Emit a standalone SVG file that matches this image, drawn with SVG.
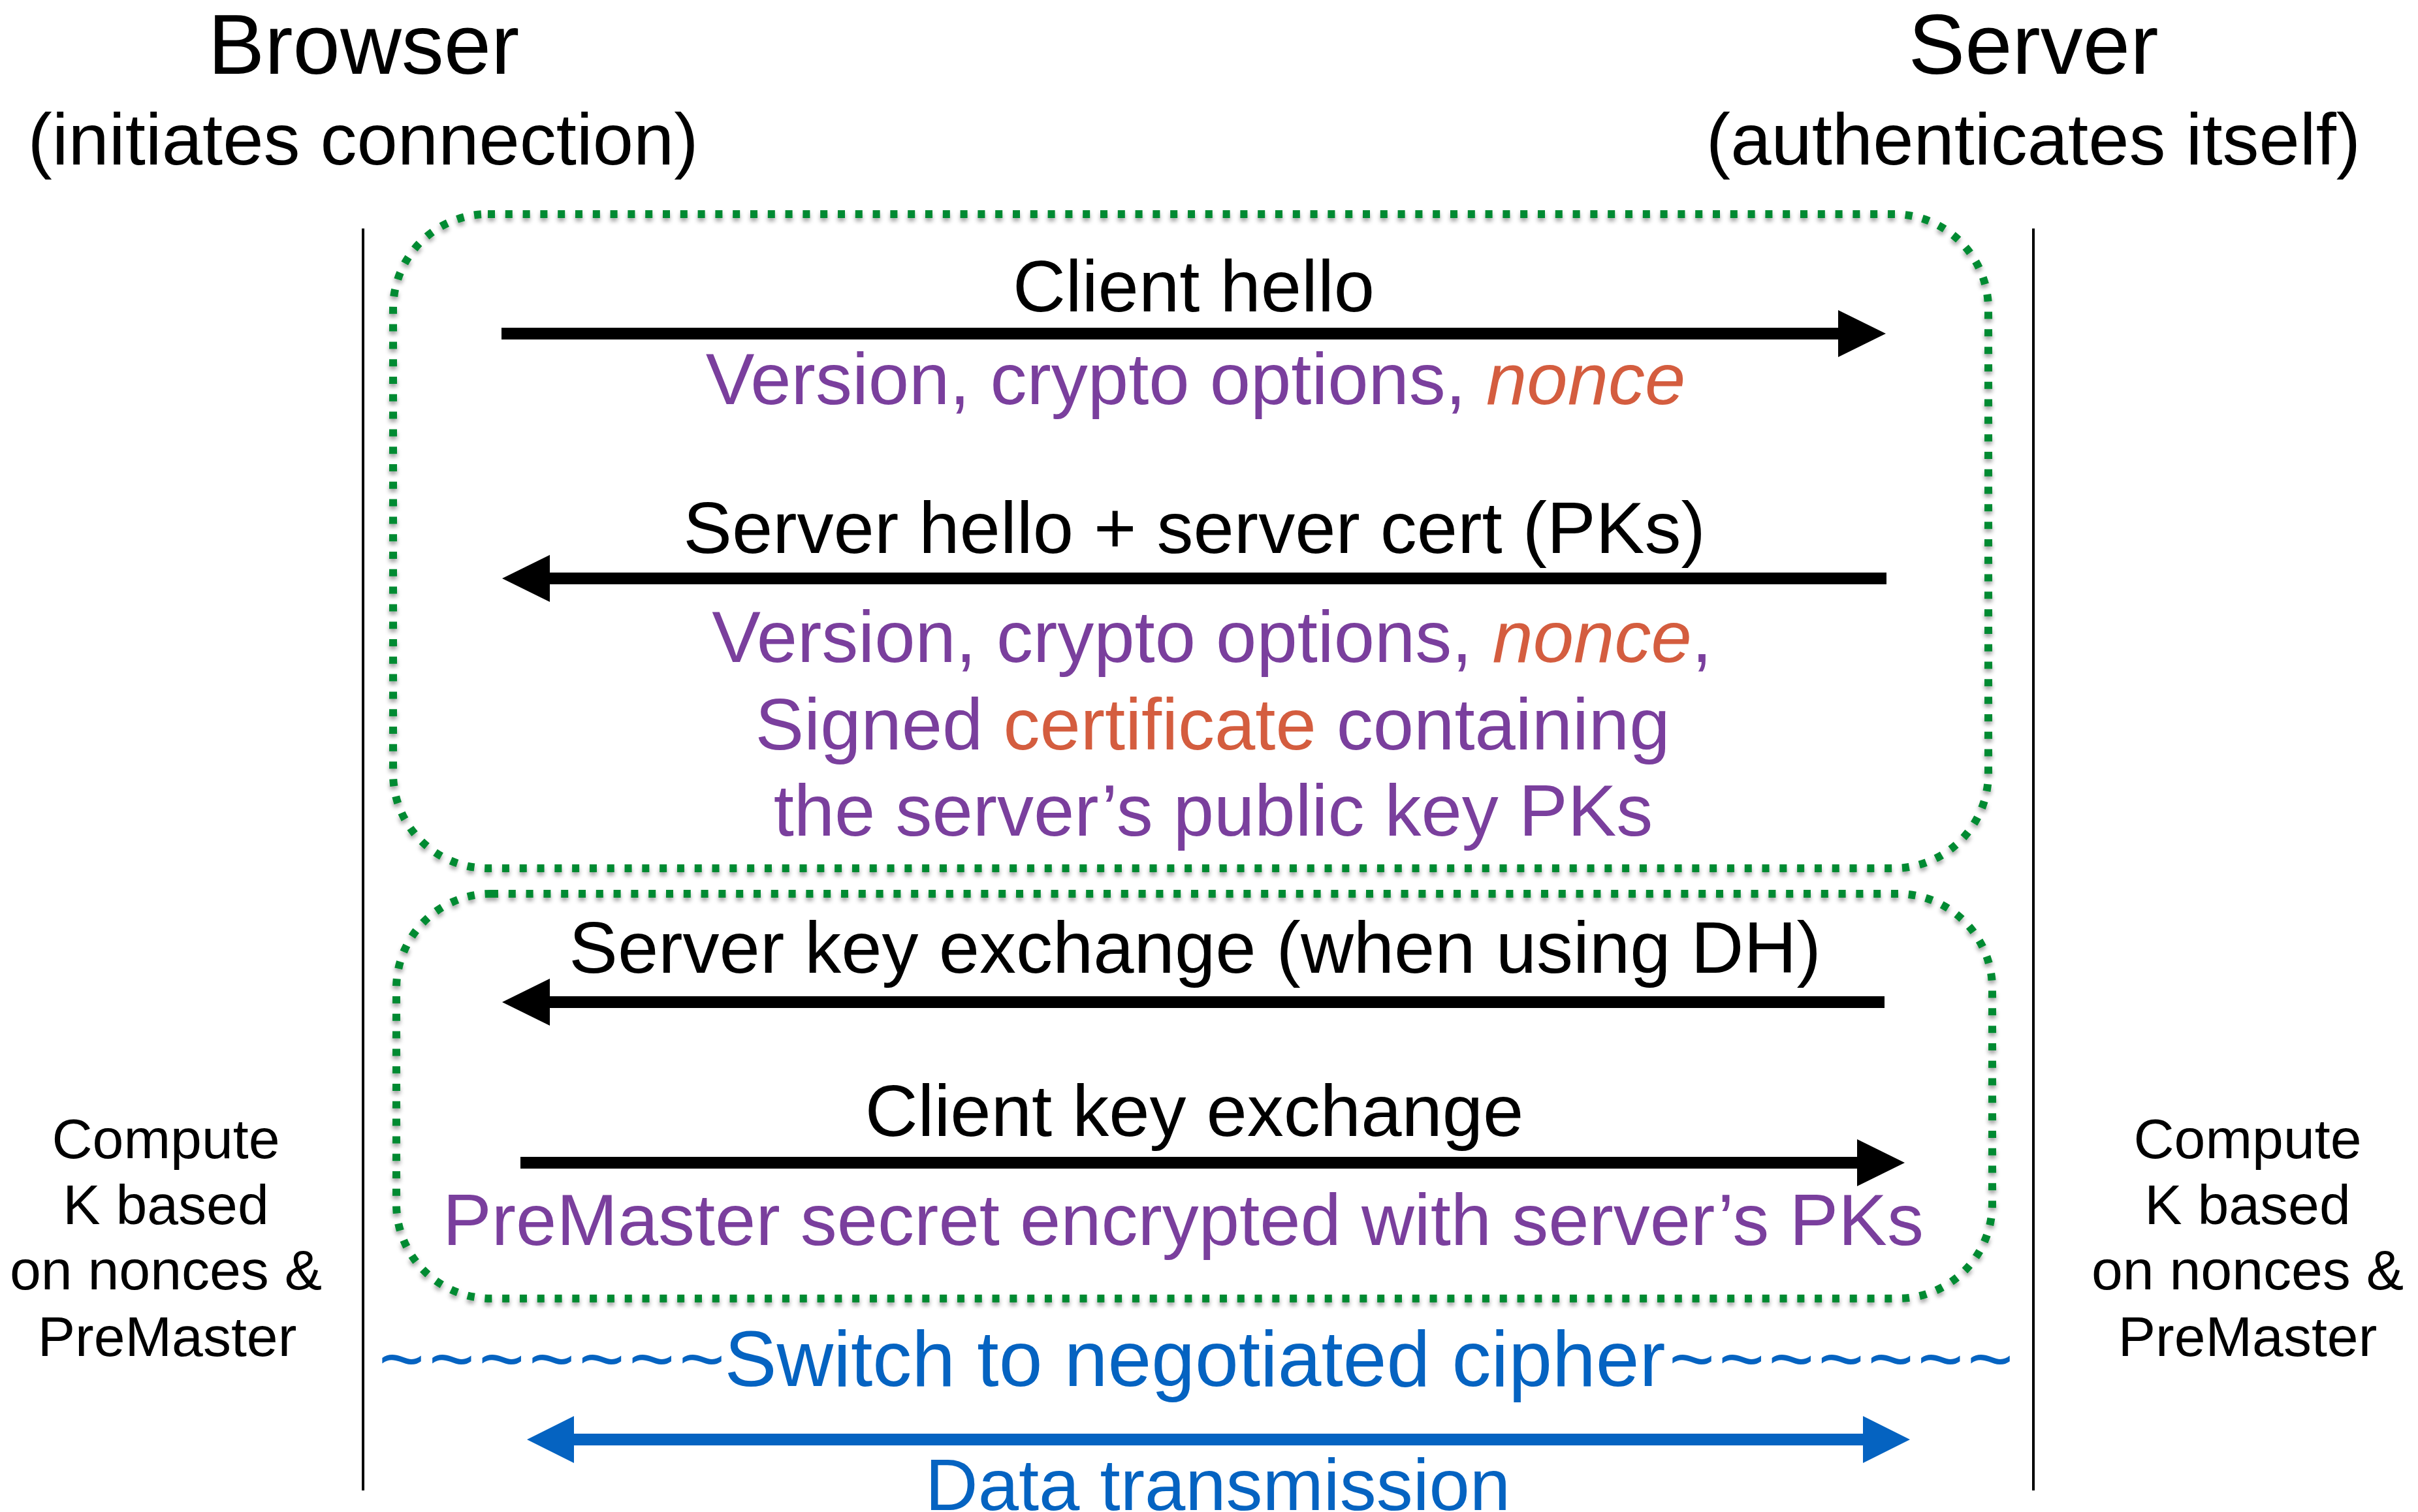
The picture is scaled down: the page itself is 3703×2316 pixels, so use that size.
<svg xmlns="http://www.w3.org/2000/svg" width="3703" height="2316" viewBox="0 0 3703 2316">
  <style>
    text { font-family: "Liberation Sans", Arial, Helvetica, sans-serif; }
    .title { font-size: 130px; fill: #000; text-anchor: middle; }
    .sub { font-size: 112px; fill: #000; text-anchor: middle; }
    .msg { font-size: 112px; fill: #000; text-anchor: middle; }
    .detail { font-size: 112px; fill: #7A3F9D; text-anchor: middle; }
    .hot { fill: #D45D3F; }
    .it { font-style: italic; }
    .note { font-size: 86px; fill: #000; text-anchor: middle; }
    .blue { fill: #0563C1; }
    .lifeline { stroke: #000; stroke-width: 4; fill: none; }
    .phase { fill: none; stroke: #038A30; stroke-width: 12; stroke-dasharray: 11 15.8; filter: url(#shadow); }
    .msgline { stroke: #000; stroke-width: 18; fill: none; }
    .dataline { stroke: #0563C1; stroke-width: 18; fill: none; }
  </style>
  <defs>
    <filter id="shadow" x="-5%" y="-5%" width="110%" height="115%">
      <feDropShadow dx="0" dy="5" stdDeviation="3" flood-color="#000" flood-opacity="0.35"/>
    </filter>
    <marker id="headBlack" markerUnits="userSpaceOnUse" markerWidth="76" markerHeight="76" viewBox="0 -38 76 76" refX="1" refY="0" orient="auto">
      <path d="M0,-36 L73,0 L0,36 Z" fill="#000"/>
    </marker>
    <marker id="headBlue" markerUnits="userSpaceOnUse" markerWidth="76" markerHeight="76" viewBox="0 -38 76 76" refX="1" refY="0" orient="auto-start-reverse">
      <path d="M0,-36 L72,0 L0,36 Z" fill="#0563C1"/>
    </marker>
  </defs>

  <rect width="3703" height="2316" fill="#fff"/>

  <!-- parties -->
  <g id="browser">
    <text class="title" x="557" y="113">Browser</text>
    <text class="sub" x="556" y="252">(initiates connection)</text>
    <line class="lifeline" x1="556" y1="350" x2="556" y2="2283"/>
  </g>
  <g id="server">
    <text class="title" x="3114" y="113">Server</text>
    <text class="sub" x="3114" y="252">(authenticates itself)</text>
    <line class="lifeline" x1="3114" y1="350" x2="3114" y2="2283"/>
  </g>

  <!-- handshake phases -->
  <g id="hello-phase">
    <rect class="phase" x="602" y="328" width="2443" height="1002" rx="145" ry="145"/>
  </g>
  <g id="key-phase">
    <rect class="phase" x="607" y="1369" width="2444" height="620" rx="145" ry="145"/>
  </g>

  <!-- message arrows -->
  <g id="connectors">
    <line class="msgline" x1="768" y1="511" x2="2816" y2="511" marker-end="url(#headBlack)"/>
    <line class="msgline" x1="2889" y1="886" x2="841" y2="886" marker-end="url(#headBlack)"/>
    <line class="msgline" x1="2886" y1="1535" x2="841" y2="1535" marker-end="url(#headBlack)"/>
    <line class="msgline" x1="797" y1="1781" x2="2845" y2="1781" marker-end="url(#headBlack)"/>
    <line class="dataline" x1="878" y1="2205" x2="2854" y2="2205" marker-start="url(#headBlue)" marker-end="url(#headBlue)"/>
  </g>

  <!-- message labels -->
  <g id="client-hello">
    <text class="msg" x="1828" y="477">Client hello</text>
    <text class="detail" x="1831" y="619">Version, crypto options, <tspan class="hot it">nonce</tspan></text>
  </g>
  <g id="server-hello">
    <text class="msg" x="1829" y="847">Server hello + server cert (PKs)</text>
    <text class="detail" x="1856" y="1014">Version, crypto options, <tspan class="hot it">nonce</tspan>,</text>
    <text class="detail" x="1857" y="1148">Signed <tspan class="hot">certificate</tspan> containing</text>
    <text class="detail" x="1858" y="1280">the server’s public key PKs</text>
  </g>
  <g id="server-key-exchange">
    <text class="msg" x="1830" y="1490">Server key exchange (when using DH)</text>
  </g>
  <g id="client-key-exchange">
    <text class="msg" x="1829" y="1740">Client key exchange</text>
    <text class="detail" x="1812" y="1907">PreMaster secret encrypted with server’s PKs</text>
  </g>
  <g id="cipher-switch">
    <text class="blue" font-size="120" x="580" y="2123" textLength="530" lengthAdjust="spacing">~~~~~~~</text>
    <text class="blue" font-size="120" x="1830" y="2123" text-anchor="middle">Switch to negotiated cipher</text>
    <text class="blue" font-size="120" x="2556" y="2123" textLength="527" lengthAdjust="spacing">~~~~~~~</text>
  </g>
  <g id="data-transmission">
    <text class="sub blue" x="1865" y="2313">Data transmission</text>
  </g>

  <!-- key derivation notes -->
  <g id="browser-compute">
    <text class="note" x="254" y="1774">Compute</text>
    <text class="note" x="254" y="1875">K based</text>
    <text class="note" x="254" y="1975">on nonces &amp;</text>
    <text class="note" x="256" y="2077">PreMaster</text>
  </g>
  <g id="server-compute">
    <text class="note" x="3442" y="1774">Compute</text>
    <text class="note" x="3442" y="1875">K based</text>
    <text class="note" x="3442" y="1975">on nonces &amp;</text>
    <text class="note" x="3442" y="2077">PreMaster</text>
  </g>
</svg>
